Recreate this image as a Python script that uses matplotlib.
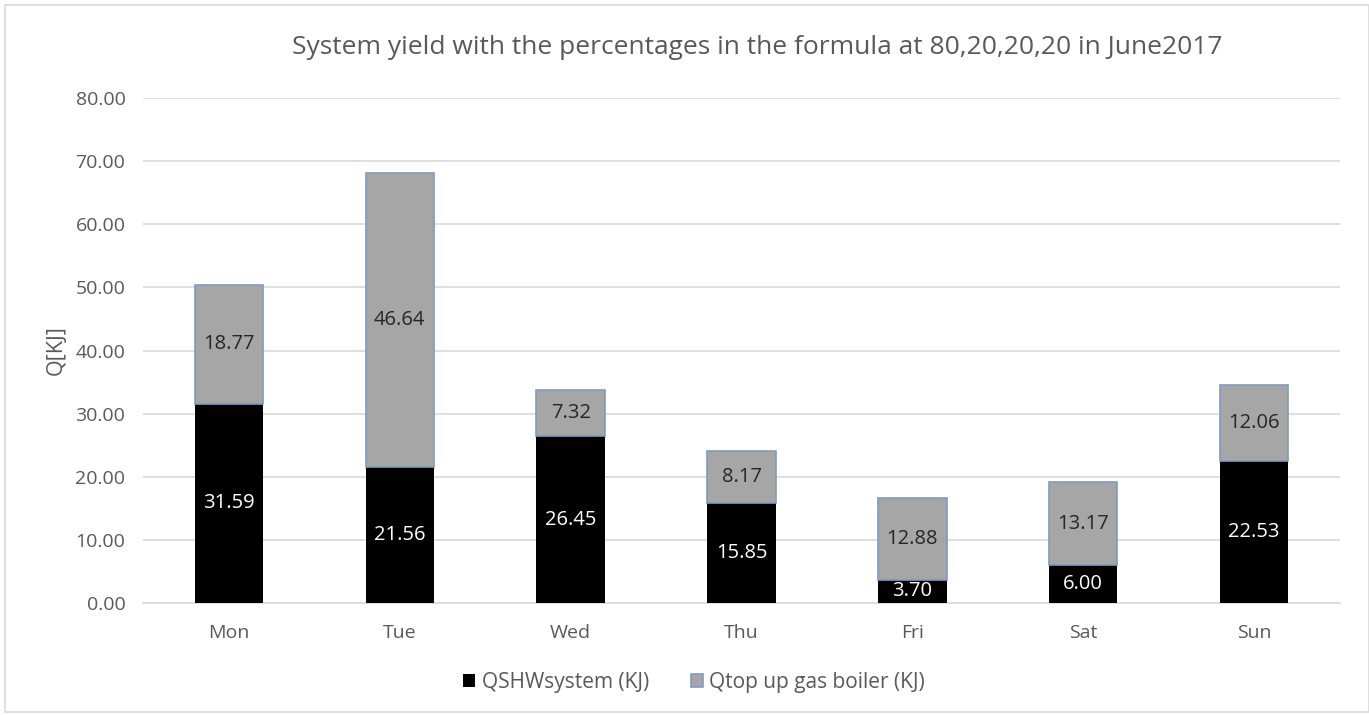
import numpy as np
import matplotlib.pyplot as plt
from matplotlib.patches import Rectangle

days = ["Mon", "Tue", "Wed", "Thu", "Fri", "Sat", "Sun"]
qshw = [31.59, 21.56, 26.45, 15.85, 3.70, 6.00, 22.53]
qtop = [18.77, 46.64, 7.32, 8.17, 12.88, 13.17, 12.06]
yticks = [0, 10, 20, 30, 40, 50, 60, 70, 80]

plt.rcParams['font.family'] = ['Open Sans', 'DejaVu Sans']

fig = plt.figure(figsize=(13.69, 7.15), dpi=100)
ax = fig.add_axes([0.1048, 0.1566, 0.8737, 0.7063])

# borde del grafico
fig.patches.append(Rectangle((0.004, 0.004), 0.996, 0.989, transform=fig.transFigure,
                             fill=False, edgecolor='#d9d9d9', linewidth=1.2))

x = np.arange(len(days))
w = 0.40
b1 = ax.bar(x, qshw, w, color='black', label='QSHWsystem (KJ)', zorder=3)
b2 = ax.bar(x, qtop, w, bottom=qshw, color='#a6a6a6', edgecolor='#7f9cc0',
            linewidth=1.2, label='Qtop up gas boiler (KJ)', zorder=3)

for i in range(len(days)):
    ax.text(x[i], qshw[i] / 2, f"{qshw[i]:.2f}", ha='center', va='center',
            color='white', fontsize=14.5, zorder=4)
    ax.text(x[i], qshw[i] + qtop[i] / 2, f"{qtop[i]:.2f}", ha='center', va='center',
            color='#262626', fontsize=14.5, zorder=4)

ax.set_xlim(-0.5, len(days) - 0.5)
ax.set_ylim(0, 80)
ax.set_yticks(yticks)
ax.set_yticklabels([f"{v:.2f}" for v in yticks])
ax.set_xticks(x)
ax.set_xticklabels(days)
ax.tick_params(axis='both', length=0, labelsize=14, colors='#595959')
ax.tick_params(axis='y', pad=13)
ax.tick_params(axis='x', pad=15)
ax.grid(axis='y', color='#d9d9d9', linewidth=1.2, zorder=0)
for s in ['top', 'right', 'left']:
    ax.spines[s].set_visible(False)
ax.spines['bottom'].set_color('#d9d9d9')
ax.spines['bottom'].set_linewidth(1.2)

ax.set_ylabel('Q[KJ]', fontsize=15.5, color='#595959', labelpad=6)
fig.text(0.553, 0.933, 'System yield with the percentages in the formula at 80,20,20,20 in June2017',
         ha='center', va='center', fontsize=19, color='#595959')

fig.legend(handles=[b1, b2], loc='center', bbox_to_anchor=(0.507, 0.045), ncol=2,
           frameon=False, fontsize=15, labelcolor='#595959', handlelength=0.58,
           handleheight=0.58, columnspacing=2.0, handletextpad=0.3)

fig.savefig('out.png', dpi=100)
